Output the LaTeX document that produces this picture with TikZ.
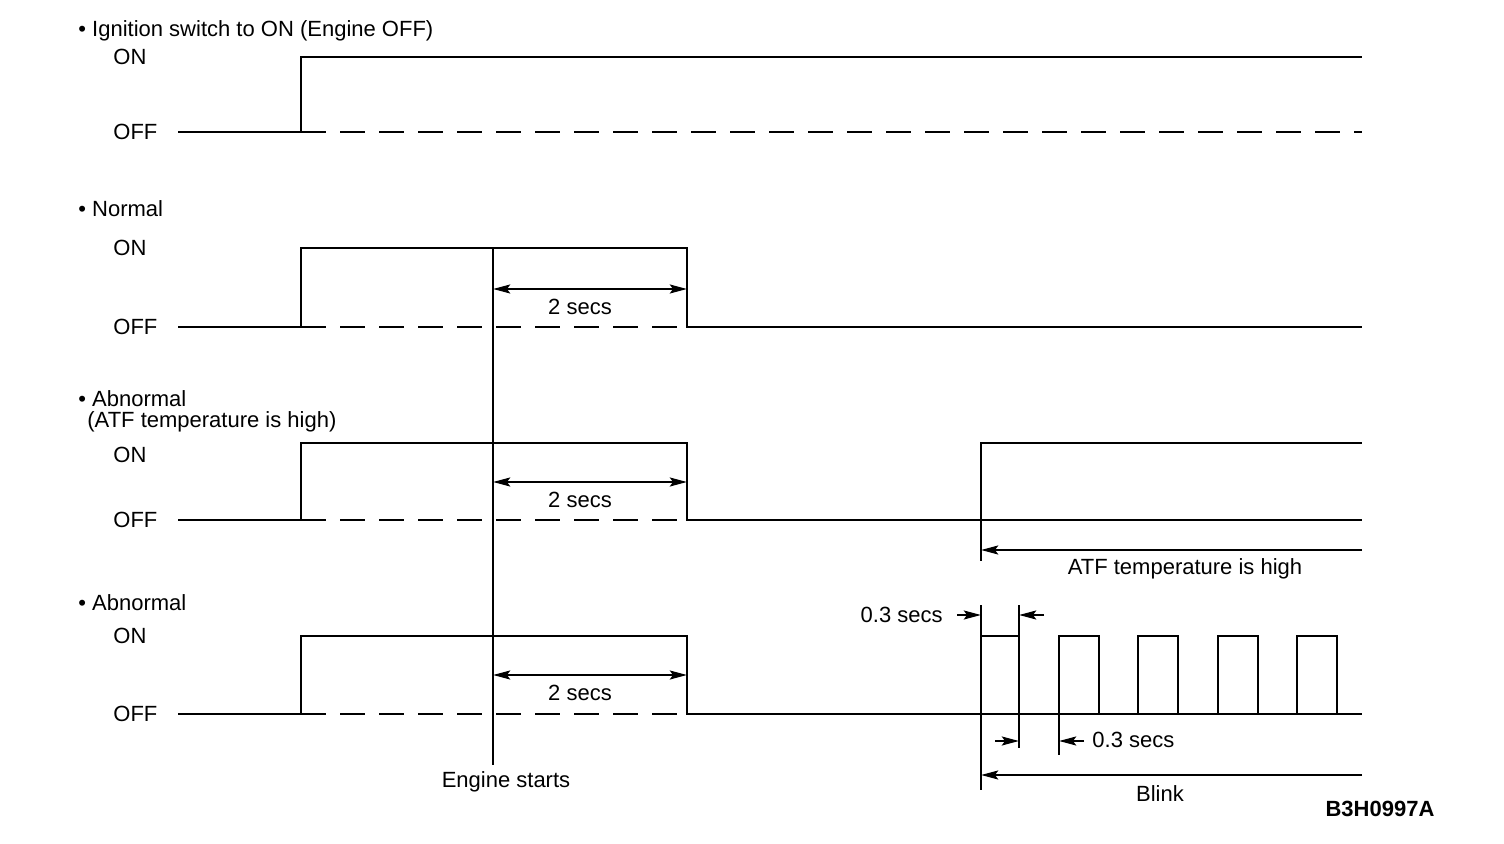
\documentclass[tikz,border=0pt]{standalone}
\usepackage{fontspec}
\setmainfont{Liberation Sans}
\usetikzlibrary{arrows.meta,positioning,calc}
\tikzset{
  sigln/.style={line width=1.4pt, line join=miter},
  offln/.style={line width=1.4pt, dash pattern=on 12.5pt off 7pt},
  extln/.style={line width=1.2pt},
  dimln/.style={-{Stealth[length=8.5pt,width=4.4pt,inset=1.5pt]}, line width=1.3pt},
  dimboth/.style={{Stealth[length=8.5pt,width=4.4pt,inset=1.5pt]}-{Stealth[length=8.5pt,width=4.4pt,inset=1.5pt]}, line width=1.3pt},
  lbl/.style={font=\fontsize{11}{13}\selectfont, inner sep=0pt},
}
\newcommand{\hdr}[3]{%
  \node[lbl, anchor=west] (#1) at (78,#2) {\textbullet\ #3};
}

\begin{document}
\begin{tikzpicture}[x=0.5pt, y=-0.5pt]
  \useasboundingbox (0,0) rectangle (1504,844);

  % headers and levels
  \hdr{h1}{31}{Ignition switch to ON (Engine OFF)}
  \hdr{h2}{209}{Normal}
  \hdr{h3}{399}{Abnormal}
  \node[lbl, anchor=west] (h3b) at (87,422) {(ATF temperature is high)};
  \hdr{h4}{603}{Abnormal}
  \foreach \n/\on/\off in {1/57/132, 2/248/327, 3/455/520, 4/636/714} {
    \node[lbl, anchor=west] (on\n) at (113,\on) {ON};
    \node[lbl, anchor=west] (off\n) at (113,\off) {OFF};
  }

  % ignition switch
  \draw[sigln] (178,132) -- (301,132) -- (301,57) -- (1362,57);
  \draw[offln] (301,132) -- (1362,132);

  % 2 secs pulse
  \foreach \n/\on/\off/\ar in {2/248/327/289, 3/443/520/482, 4/636/714/675} {
    \draw[sigln] (178,\off) -- (301,\off) -- (301,\on) -- (687,\on) -- (687,\off) -- (1362,\off);
    \draw[offln] (301,\off) -- (687,\off);
    \coordinate (st\n) at (493,\ar);
    \coordinate (en\n) at (687,\ar);
    \draw[dimboth] (st\n) -- (en\n);
    \node[lbl] (sec\n) at (580,\ar+18) {2 secs};
  }

  % engine starts
  \coordinate (eng) at (493,248);
  \coordinate (engb) at (493,765);
  \draw[extln] (eng) -- (engb);
  \node[lbl] (engtxt) at (506,782) {Engine starts};

  % ATF temperature is high
  \draw[sigln] (981,520) -- (981,443) -- (1362,443);
  \draw[extln] (981,520) -- (981,561);
  \coordinate (atfa) at (1362,550);
  \coordinate (atfb) at (981,550);
  \draw[dimln] (atfa) -- (atfb);
  \node[lbl] (atftxt) at (1185,569) {ATF temperature is high};

  % blink
  \draw[extln] (981,605) -- (981,790);
  \draw[sigln] (981,714) -- (981,636) -- (1019,636) -- (1019,714);
  \draw[extln] (1019,605) -- (1019,748);
  \draw[extln] (1059,714) -- (1059,755);
  \foreach \x in {1059,1138,1218,1297}
    \draw[sigln] (\x,714) -- (\x,636) -- (\x+40,636) -- (\x+40,714);

  \coordinate (ta) at (957,615);
  \coordinate (tb) at (981,615);
  \coordinate (tc) at (1044,615);
  \coordinate (td) at (1019,615);
  \draw[dimln] (ta) -- (tb);
  \draw[dimln] (tc) -- (td);
  \node[lbl, anchor=east] (ttop) at (943,615) {0.3 secs};

  \coordinate (ba) at (995,741);
  \coordinate (bb) at (1019,741);
  \coordinate (bc) at (1084,741);
  \coordinate (bd) at (1059,741);
  \draw[dimln] (ba) -- (bb);
  \draw[dimln] (bc) -- (bd);
  \node[lbl, anchor=west] (tbot) at (1092,740) {0.3 secs};

  \coordinate (bla) at (1362,775);
  \coordinate (blb) at (981,775);
  \draw[dimln] (bla) -- (blb);
  \node[lbl] (bltxt) at (1160,794) {Blink};

  \node[lbl, font=\fontsize{11}{13}\selectfont\bfseries] (code) at (1380,809) {B3H0997A};
\end{tikzpicture}
\end{document}
